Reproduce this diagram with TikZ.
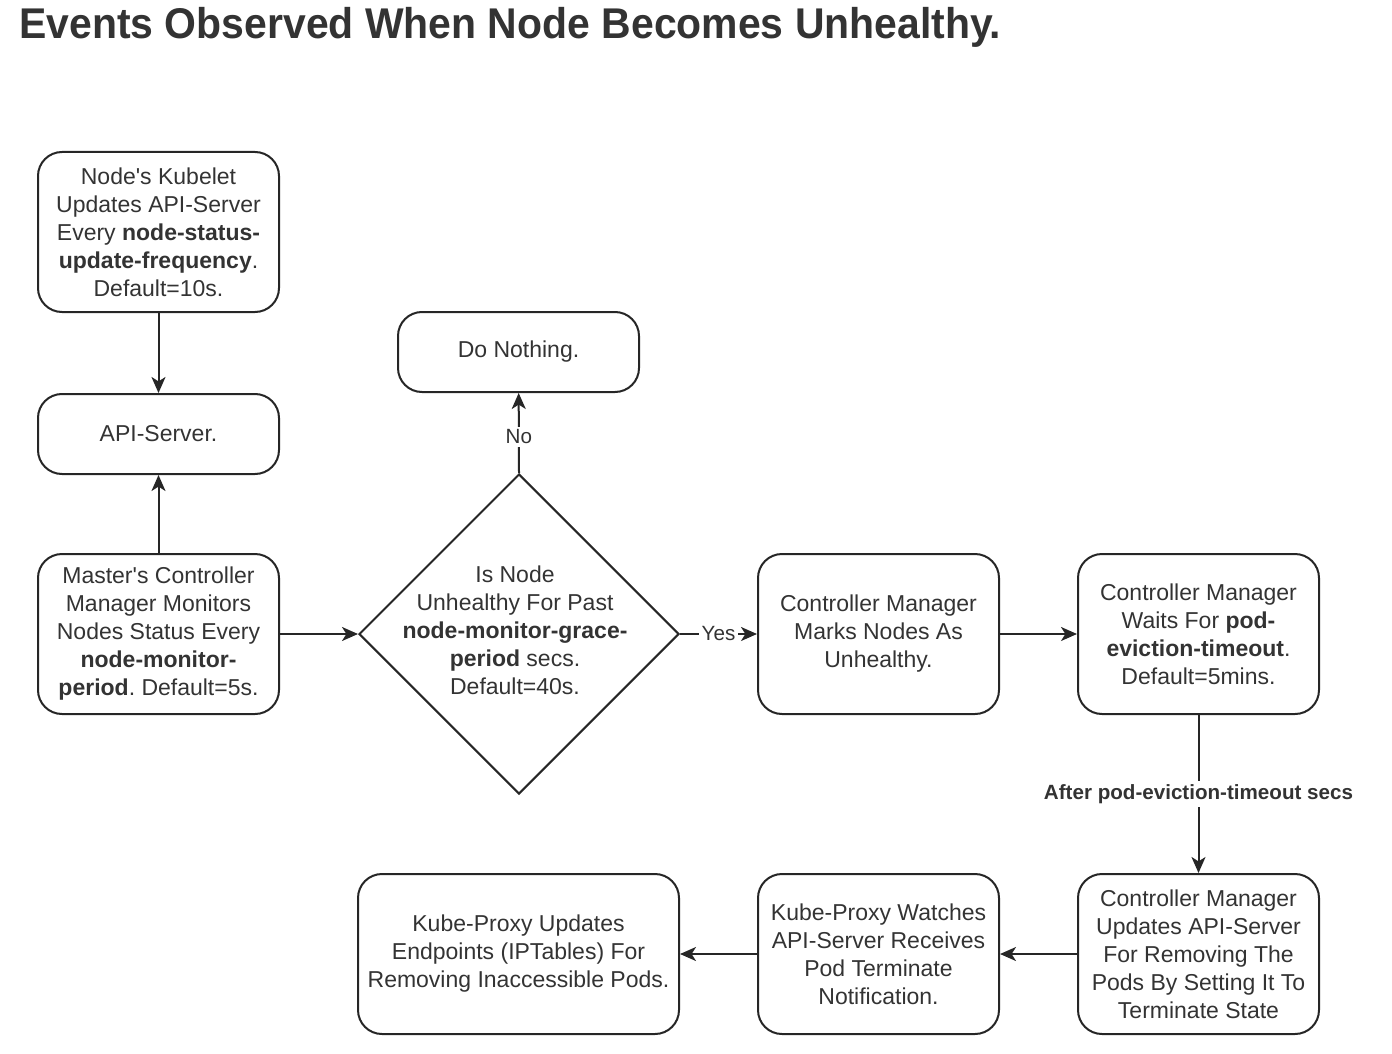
\documentclass[tikz,border=0pt]{standalone}
\usepackage{fontspec}
\usepackage{graphicx}
\setmainfont{Liberation Sans}
\font\aposfont="Liberation Sans" at 11.5pt
\usetikzlibrary{shapes.geometric,arrows.meta}
\definecolor{linec}{HTML}{262626}
\definecolor{textc}{HTML}{333333}
\definecolor{titlec}{HTML}{333333}
\newcommand{\bodyfont}{\fontsize{11.5}{14}\selectfont}
\newcommand{\labfont}{\fontsize{10.3}{12}\selectfont}
\newcommand{\apos}{{\aposfont\char"27}}
\frenchspacing
\tikzset{
  box/.style={draw=linec, line width=1pt, rounded corners=12pt, minimum width=120.5pt,
    minimum height=80pt, align=center, font=\bodyfont, text=textc, inner sep=2pt},
  smallbox/.style={box, minimum height=40pt},
  widebox/.style={box, minimum width=160.5pt},
  decision/.style={draw=linec, line width=1pt, diamond, minimum width=160pt, minimum height=160pt, inner sep=0pt},
  dtext/.style={align=center, font=\bodyfont, text=textc, inner sep=0pt},
  flow/.style={draw=linec, line width=1pt, -{Stealth[length=8pt,width=7pt,inset=2.2pt]}},
  elabel/.style={fill=white, font=\labfont, text=textc, inner sep=1.5pt},
}
\begin{document}
\begin{tikzpicture}[x=0.5pt,y=-0.5pt]
\useasboundingbox (0,0) rectangle (1392,1054);
\node[anchor=west, font=\bfseries\fontsize{21.5}{24}\selectfont, text=titlec, inner sep=0pt] (title) at (19,27) {\scalebox{0.952}[1]{Events Observed When Node Becomes Unhealthy.}};

\node[box] (kubelet) at (158.5,232) {Node\apos s Kubelet\\Updates API-Server\\Every \textbf{node-status-}\\\textbf{update-frequency}.\\Default=10s.};
\node[smallbox] (api) at (158.5,434) {API-Server.};
\node[box] (master) at (158.5,634) {Master\apos s Controller\\Manager Monitors\\Nodes Status Every\\\textbf{node-monitor-}\\\textbf{period}. Default=5s.};
\node[smallbox] (nothing) at (518.5,352) {Do Nothing.};
\node[decision] (dec) at (519,634) {};
\node[dtext] (dectext) at (515,630) {Is Node\\Unhealthy For Past\\\textbf{node-monitor-grace-}\\\textbf{period} secs.\\Default=40s.};
\node[box] (marks) at (878.5,634) {Controller Manager\\Marks Nodes As\\Unhealthy.};
\node[box] (waits) at (1198.5,634) {Controller Manager\\Waits For \textbf{pod-}\\\textbf{eviction-timeout}.\\Default=5mins.};
\node[box] (updates) at (1198.5,954) {Controller Manager\\Updates API-Server\\For Removing The\\Pods By Setting It To\\Terminate State};
\node[box] (watches) at (878.5,954) {Kube-Proxy Watches\\API-Server Receives\\Pod Terminate\\Notification.};
\node[widebox] (proxy) at (518.5,954) {Kube-Proxy Updates\\Endpoints (IPTables) For\\Removing Inaccessible Pods.};

\draw[flow] (kubelet) -- (api);
\draw[flow] (master) -- (api);
\draw[flow] (master) -- (dec.west);
\draw[flow] (dec.north) -- node[elabel, pos=0.45] {No} (nothing);
\draw[flow] (dec.east) -- node[elabel] {Yes} (marks);
\draw[flow] (marks) -- (waits);
\draw[flow] (waits) -- node[elabel, font=\labfont\bfseries] {After pod-eviction-timeout secs} (updates);
\draw[flow] (updates) -- (watches);
\draw[flow] (watches) -- (proxy);
\end{tikzpicture}
\end{document}
